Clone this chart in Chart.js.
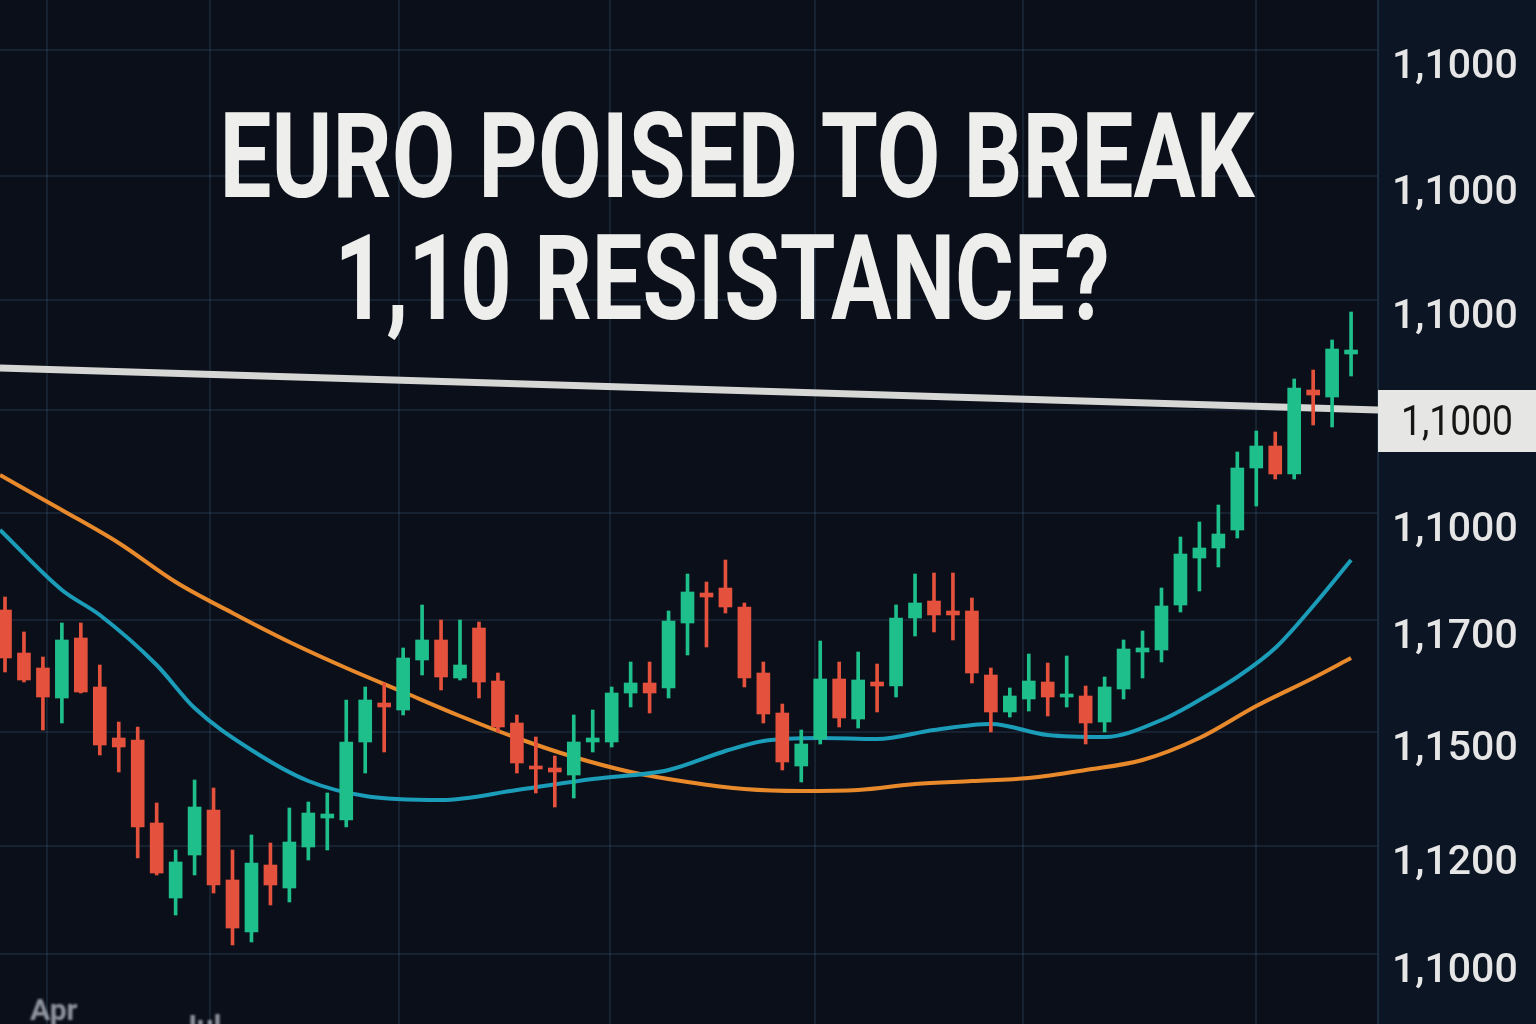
<!DOCTYPE html>
<html>
<head>
<meta charset="utf-8">
<script src="https://cdn.jsdelivr.net/npm/chart.js@4.4.1/dist/chart.umd.min.js"></script>
<style>
  html, body { margin: 0; padding: 0; background: #0a0f19; overflow: hidden; }
  #wrap { width: 1536px; height: 1024px; }
</style>
</head>
<body>
<div id="wrap"><canvas id="chart" width="1536" height="1024"></canvas></div>
<script>
// daily candles (price units)
const candleOpen = [1.0995,1.09735,1.0966,1.0951,1.0981,1.09565,1.0931,1.093,1.08885,1.0851,
  1.08725,1.0895,1.086,1.0834,1.08675,1.0856,1.08765,1.0891,1.089,1.0929,
  1.09485,1.0945,1.097,1.098,1.0961,1.0986,1.09595,1.09385,1.0917,1.0916,
  1.09125,1.0929,1.0929,1.09535,1.09585,1.0956,1.09885,1.10035,1.1006,1.09965,
  1.09635,1.09435,1.0917,1.09305,1.09605,1.09405,1.0959,1.0957,1.0991,1.09995,
  1.09945,1.09945,1.09625,1.0944,1.09505,1.0959,1.09515,1.0952,1.0939,1.09555,
  1.0974,1.0975,1.09975,1.1021,1.1026,1.1035,1.1066,1.1077,1.1063,1.1105,
  1.11015,1.1123];
const candleClose = [1.0971,1.096,1.09515,1.098,1.0954,1.09275,1.09265,1.08865,1.08635,1.0869,
  1.08965,1.08575,1.0836,1.08685,1.08575,1.0879,1.08935,1.0893,1.0929,1.095,
  1.09465,1.0971,1.098,1.09615,1.09675,1.0959,1.09365,1.09185,1.09155,1.0914,
  1.0929,1.0931,1.09535,1.09585,1.09535,1.09895,1.1004,1.10015,1.09965,1.0961,
  1.0943,1.0919,1.0928,1.09605,1.0941,1.096,1.0957,1.0991,1.09985,1.09925,
  1.09925,1.09635,1.0944,1.0952,1.09595,1.09515,1.0953,1.09385,1.09565,1.09755,
  1.0976,1.0997,1.1023,1.1026,1.1033,1.1066,1.1077,1.1063,1.1106,1.11025,
  1.11255,1.1125];
const candleHigh = [1.10015,1.0984,1.09715,1.09885,1.09885,1.09675,1.0939,1.09365,1.08985,1.0875,
  1.091,1.0906,1.0875,1.08825,1.08785,1.0896,1.0899,1.09035,1.095,1.09565,
  1.09585,1.0976,1.09975,1.099,1.099,1.0989,1.09635,1.09425,1.09315,1.0922,
  1.09425,1.0945,1.09565,1.0969,1.0969,1.09945,1.1013,1.1009,1.102,1.09985,
  1.0969,1.0948,1.0935,1.09795,1.0969,1.0974,1.0968,1.09975,1.1013,1.10135,
  1.10135,1.1001,1.0966,1.0956,1.0973,1.09685,1.0972,1.0957,1.09615,1.098,
  1.09845,1.1006,1.10315,1.1039,1.10475,1.1074,1.10845,1.1084,1.11105,1.1115,
  1.113,1.1144];
const candleLow = [1.0964,1.0959,1.0935,1.09385,1.09535,1.09225,1.0914,1.0871,1.08625,1.08425,
  1.08625,1.08535,1.08275,1.0829,1.08475,1.0849,1.087,1.0875,1.08865,1.09135,
  1.0924,1.09425,1.09625,1.0955,1.096,1.0951,1.0934,1.09135,1.09035,1.08965,
  1.0901,1.0924,1.09265,1.09465,1.09435,1.0951,1.09725,1.09765,1.09935,1.09565,
  1.09385,1.0915,1.0909,1.0928,1.09365,1.0936,1.0944,1.09515,1.0982,1.0984,
  1.098,1.09585,1.0934,1.09415,1.09445,1.0942,1.09465,1.0928,1.0934,1.09505,
  1.0961,1.0969,1.0994,1.10045,1.10165,1.1031,1.1047,1.10605,1.10605,1.10875,
  1.10865,1.1112];

// moving averages, sampled at candle index
const fastMaIdx = [-0.26,3,5,8,10,13,16,19,23,27,31,35,38,40,43,46,49,52,55,58,61,63,65,67,69,71];
const fastMaVal = [1.1035,1.1005,1.09925,1.09675,1.0946,1.0925,1.09095,1.0902,1.09,1.0905,1.09105,1.0915,1.09245,
  1.09295,1.0931,1.09305,1.0935,1.0938,1.09325,1.09315,1.094,1.095,1.09615,1.0976,1.0997,1.102];
const slowMaIdx = [-0.26,3,6,9,12,15,18,21,24,27,30,33,36,39,42,45,48,51,54,57,60,63,66,69,71];
const slowMaVal = [1.10625,1.1045,1.10285,1.1009,1.09935,1.0979,1.0966,1.0954,1.0942,1.0931,1.09215,1.0914,1.0909,
  1.09055,1.09045,1.0905,1.0908,1.09095,1.0911,1.0915,1.092,1.0931,1.0947,1.0961,1.0971];

// resistance line (start / end of the view)
const resistanceVal = [1.1116, 1.1095];
const resistanceLabel = '1,1000';

// axis ticks
const yTickVals = [1.1275, 1.1212, 1.115, 1.1095, 1.10435, 1.099, 1.0934, 1.0877, 1.0823];
const yTickLabels = ['1,1000','1,1000','1,1000','','1,1000','1,1700','1,1500','1,1200','1,1000'];
const xGridIdx = [2.2, 10.8, 20.8, 31.9, 42.7, 53.7, 66];
const monthLabels = ['Apr', 'Jul'];
const titleLines = ['EURO POISED TO BREAK', '1,10 RESISTANCE?'];

const X_MIN = -0.2637, X_MAX = 72.42;
const UP = '#1fbf8c', DOWN = '#e4513c';
const gridColor = 'rgba(70,110,140,0.2)';

const idx = candleOpen.map((_, i) => i);
const candleColor = idx.map(i => candleClose[i] >= candleOpen[i] ? UP : DOWN);

const decor = {
  id: 'decor',
  beforeDraw(chart) {
    const { ctx, chartArea, width, height } = chart;
    ctx.save();
    ctx.fillStyle = '#0a0f19';
    ctx.fillRect(0, 0, width, height);
    ctx.fillStyle = '#0c1524';
    ctx.fillRect(chartArea.right, 0, width - chartArea.right, height);
    ctx.restore();
  },
  afterDraw(chart) {
    const { ctx, chartArea, width } = chart;
    const ys = chart.scales.y;
    ctx.save();

    // price tag at the end of the resistance line
    const py = ys.getPixelForValue(resistanceVal[1]);
    ctx.fillStyle = '#e6e6e4';
    ctx.fillRect(chartArea.right, py - 20, width - chartArea.right, 62);
    ctx.fillStyle = '#161616';
    ctx.font = '38px Roboto';
    ctx.textAlign = 'left';
    ctx.textBaseline = 'middle';
    const tw = ctx.measureText(resistanceLabel).width;
    ctx.save();
    ctx.translate(1401, py + 14);
    ctx.scale(112 / tw, 1.12);
    ctx.fillText(resistanceLabel, 0, 0);
    ctx.restore();

    // headline
    ctx.fillStyle = '#eeeeec';
    ctx.font = 'bold 119px Roboto';
    ctx.textBaseline = 'alphabetic';
    ctx.textAlign = 'center';
    [[titleLines[0], 737, 197, 1035], [titleLines[1], 722, 319, 775]].forEach(([t, cx, by, w]) => {
      const m = ctx.measureText(t).width;
      ctx.save();
      ctx.translate(cx, by);
      ctx.scale(w / m, 1);
      ctx.fillText(t, 0, 0);
      ctx.restore();
    });

    // blurry month labels at the bottom
    ctx.filter = 'blur(1.2px)';
    ctx.fillStyle = 'rgba(175,180,190,0.8)';
    ctx.font = 'bold 30px Roboto';
    ctx.textAlign = 'left';
    ctx.fillText(monthLabels[0], 30, 1020);
    ctx.fillText(monthLabels[1], 180, 1036);
    ctx.restore();
  }
};

new Chart(document.getElementById('chart'), {
  type: 'bar',
  data: {
    datasets: [
      {
        label: 'body',
        data: idx.map(i => ({ x: i, y: [candleOpen[i], candleClose[i]] })),
        backgroundColor: candleColor,
        barThickness: 13,
        minBarLength: 3,
        grouped: false,
        order: 0
      },
      {
        label: 'wick',
        data: idx.map(i => ({ x: i, y: [candleLow[i], candleHigh[i]] })),
        backgroundColor: candleColor,
        barThickness: 3,
        grouped: false,
        order: 1
      },
      {
        type: 'line',
        label: 'fast MA',
        data: fastMaIdx.map((x, i) => ({ x: x, y: fastMaVal[i] })),
        borderColor: '#1b9cb8',
        borderWidth: 4,
        pointRadius: 0,
        cubicInterpolationMode: 'monotone',
        order: 2
      },
      {
        type: 'line',
        label: 'slow MA',
        data: slowMaIdx.map((x, i) => ({ x: x, y: slowMaVal[i] })),
        borderColor: '#e8892c',
        borderWidth: 4,
        pointRadius: 0,
        cubicInterpolationMode: 'monotone',
        order: 3
      },
      {
        type: 'line',
        label: 'resistance',
        data: [{ x: X_MIN, y: resistanceVal[0] }, { x: X_MAX, y: resistanceVal[1] }],
        borderColor: '#d6d6d4',
        borderWidth: 7,
        pointRadius: 0,
        order: 4
      }
    ]
  },
  options: {
    responsive: false,
    animation: false,
    layout: { padding: 0 },
    plugins: { legend: { display: false }, tooltip: { enabled: false } },
    scales: {
      x: {
        type: 'linear',
        min: X_MIN,
        max: X_MAX,
        offset: false,
        afterBuildTicks: s => { s.ticks = xGridIdx.map(v => ({ value: v })); },
        afterFit: s => { s.height = 0; s.paddingLeft = 0; s.paddingRight = 0; },
        ticks: { display: false },
        grid: { color: gridColor, lineWidth: 2, drawTicks: false, offset: false },
        border: { display: false }
      },
      y: {
        position: 'right',
        min: 1.0788,
        max: 1.13,
        afterBuildTicks: s => { s.ticks = yTickVals.map(v => ({ value: v })); },
        afterFit: s => { s.width = 158; s.paddingTop = 0; s.paddingBottom = 0; },
        ticks: {
          autoSkip: false,
          padding: 14,
          labelOffset: 18,
          color: '#e6e6e6',
          font: { family: 'Roboto', size: 41, weight: '500' },
          callback: (v, i) => yTickLabels[i]
        },
        grid: { color: gridColor, lineWidth: 2, drawTicks: false },
        border: { display: true, color: 'rgba(70,110,140,0.3)', width: 2 }
      }
    }
  },
  plugins: [decor]
});
</script>
</body>
</html>
